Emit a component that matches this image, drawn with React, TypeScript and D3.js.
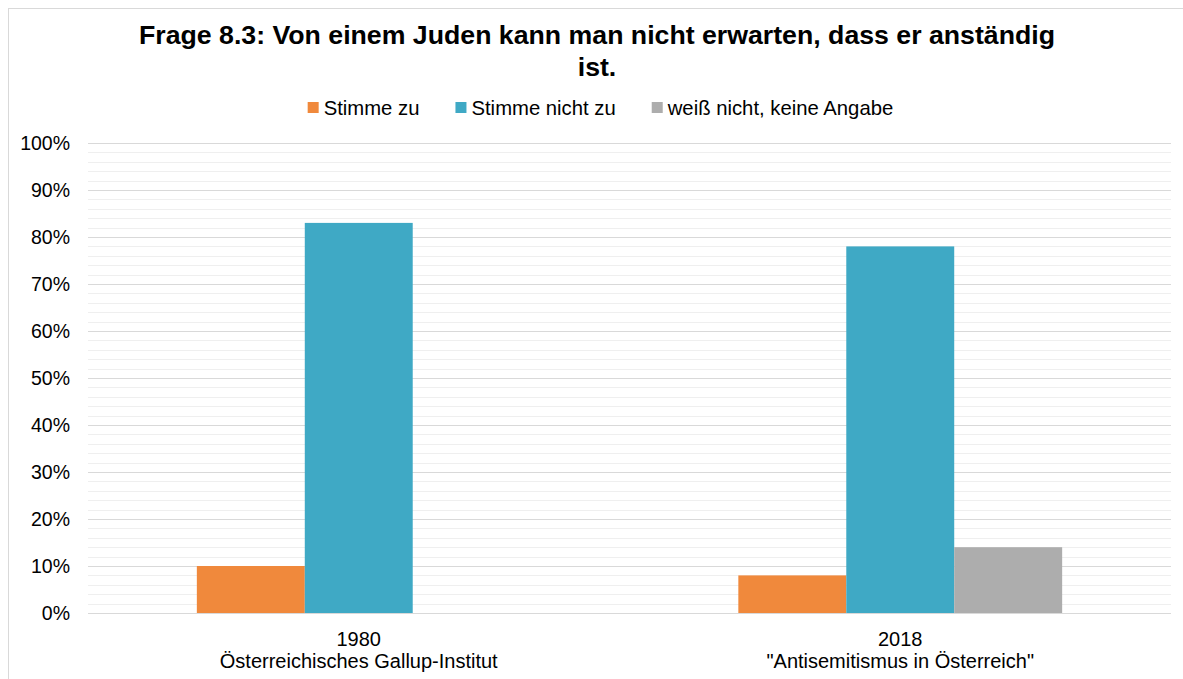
import React from 'react';
import * as d3 from 'd3';

// Survey data (percent)
const categories = ['1980', '2018'];
const categorySources = ['Österreichisches Gallup-Institut', '"Antisemitismus in Österreich"'];
const seriesNames = ['Stimme zu', 'Stimme nicht zu', 'weiß nicht, keine Angabe'];
const stimmeZu = [10, 8];
const stimmeNichtZu = [83, 78];
const weissNicht = [0, 14];
const yTicks = [0, 10, 20, 30, 40, 50, 60, 70, 80, 90, 100];

const titleLines = ['Frage 8.3: Von einem Juden kann man nicht erwarten, dass er anständig', 'ist.'];

const seriesValues = [stimmeZu, stimmeNichtZu, weissNicht];
const colors = ['#F0893C', '#3FA9C5', '#ADADAD'];

const W = 1183;
const H = 679;
const FONT = '"Liberation Sans", Arial, Helvetica, sans-serif';

const margin = { top: 143, right: 12, bottom: 66, left: 88 };

let measureCtx: CanvasRenderingContext2D | null = null;
const measure = (text: string, size: number) => {
    if (!measureCtx) measureCtx = document.createElement('canvas').getContext('2d');
    if (!measureCtx) return text.length * size * 0.5;
    measureCtx.font = `${size}px ${FONT}`;
    return measureCtx.measureText(text).width;
};

const App: React.FC = () => {
    const plotLeft = margin.left;
    const plotRight = W - margin.right;
    const plotTop = margin.top;
    const plotBottom = H - margin.bottom;

    const x0 = d3.scaleBand<string>().domain(categories).range([plotLeft, plotRight]);
    const bw = x0.bandwidth();
    const x1 = d3.scaleBand<string>().domain(seriesNames).range([bw * 0.201, bw * 0.799]);

    const y = d3.scaleLinear().domain([0, 100]).range([plotBottom, plotTop]);
    const minorTicks = d3.range(0, 101, 2).filter(v => v % 10 !== 0);

    // Legend layout
    const legendSize = 20.3;
    const swatch = 11;
    const swatchGap = 5;
    const itemGap = 36;
    const widths = seriesNames.map(s => measure(s, legendSize));
    const total = d3.sum(widths) + seriesNames.length * (swatch + swatchGap) + itemGap * (seriesNames.length - 1);
    let cursor = 601 - total / 2;
    const legendItems = seriesNames.map((s, i) => {
        const item = { name: s, x: cursor, color: colors[i] };
        cursor += swatch + swatchGap + widths[i] + itemGap;
        return item;
    });

    return (
        <svg width={W} height={H} style={{ position: 'absolute', left: 0, top: 0, background: '#fff' }} fontFamily={FONT}>
            <rect x={8.5} y={8.5} width={W} height={H} fill="#fff" stroke="#d9d9d9" strokeWidth={1} />

            {/* Title */}
            {titleLines.map((line, i) => (
                <text key={i} x={597} y={44 + i * 32} textAnchor="middle" fontSize={26.7} fontWeight="bold" fill="#000">
                    {line}
                </text>
            ))}

            {/* Legend */}
            {legendItems.map(item => (
                <g key={item.name} transform={`translate(${item.x},0)`}>
                    <rect x={0} y={102} width={swatch} height={swatch} fill={item.color} />
                    <text x={swatch + swatchGap} y={115} fontSize={legendSize} fill="#000">{item.name}</text>
                </g>
            ))}

            {/* Grid */}
            {minorTicks.map(v => (
                <line key={`m${v}`} x1={plotLeft} x2={plotRight} y1={Math.round(y(v)) + 0.5} y2={Math.round(y(v)) + 0.5} stroke="#efefef" strokeWidth={1} />
            ))}
            {yTicks.map(v => (
                <line key={`M${v}`} x1={plotLeft} x2={plotRight} y1={Math.round(y(v)) + 0.5} y2={Math.round(y(v)) + 0.5} stroke="#d9d9d9" strokeWidth={1.2} />
            ))}

            {/* Y tick labels */}
            {yTicks.map(v => (
                <text key={`t${v}`} x={70} y={y(v)} dy="0.35em" textAnchor="end" fontSize={19.5} fill="#000">
                    {`${v}%`}
                </text>
            ))}

            {/* Bars */}
            {categories.map((c, ci) => (
                <g key={c} transform={`translate(${x0(c)},0)`}>
                    {seriesNames.map((s, si) => {
                        const v = seriesValues[si][ci];
                        return (
                            <rect
                                key={s}
                                x={x1(s)}
                                y={y(v)}
                                width={x1.bandwidth()}
                                height={y(0) - y(v)}
                                fill={colors[si]}
                            />
                        );
                    })}
                </g>
            ))}

            {/* X labels */}
            {categories.map((c, ci) => {
                const cx = (x0(c) as number) + bw / 2;
                return (
                    <g key={`x${c}`}>
                        <text x={cx} y={646} textAnchor="middle" fontSize={20} fill="#000">{c}</text>
                        <text x={cx} y={668} textAnchor="middle" fontSize={20} fill="#000">{categorySources[ci]}</text>
                    </g>
                );
            })}
        </svg>
    );
};

export default App;
